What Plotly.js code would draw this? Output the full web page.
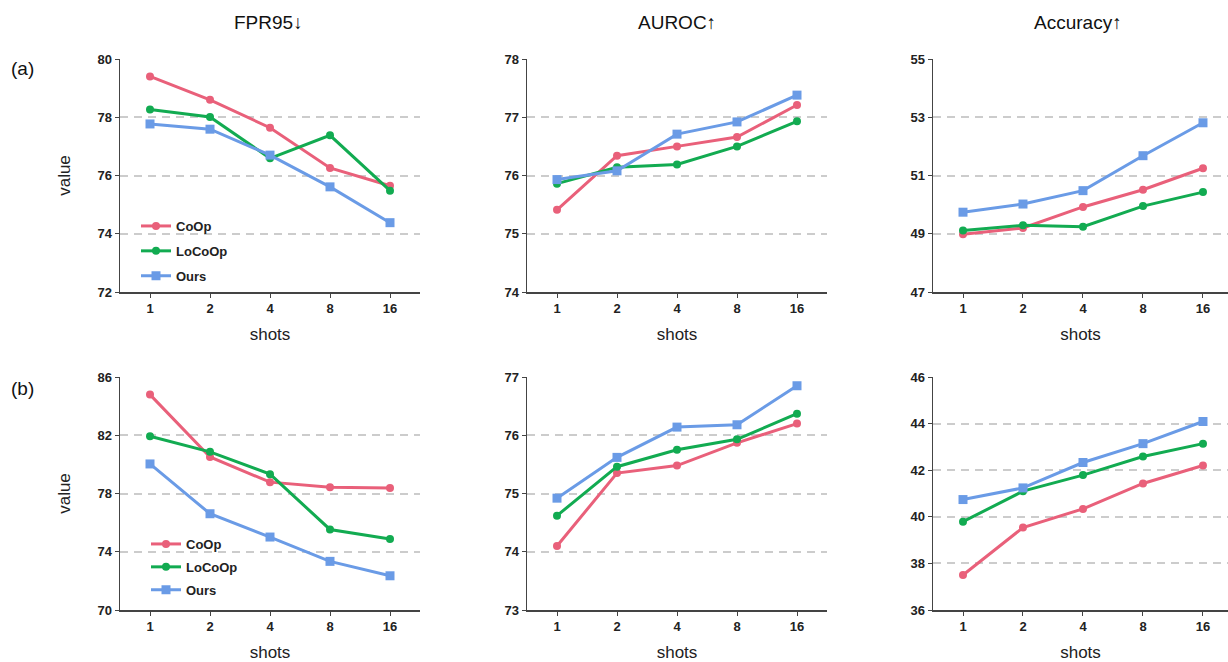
<!DOCTYPE html>
<html>
<head>
<meta charset="utf-8">
<script src="https://cdn.plot.ly/plotly-3.0.1.min.js"></script>
<style>
  html, body { margin: 0; padding: 0; background: #fff; }
  #chart { width: 1228px; height: 662px; }
</style>
</head>
<body>
<div id="chart"></div>
<script>
// ---------- data ----------
const shots = ['1', '2', '4', '8', '16'];
const methods = ['CoOp', 'LoCoOp', 'Ours'];
const columnTitles = ['FPR95\u2193', 'AUROC\u2191', 'Accuracy\u2191'];
const rowLabels = ['(a)', '(b)'];

// row (a)
const fprA_coop   = [79.40, 78.60, 77.64, 76.26, 75.65];
const fprA_locoop = [78.27, 78.01, 76.59, 77.38, 75.48];
const fprA_ours   = [77.77, 77.59, 76.70, 75.61, 74.38];
const aurocA_coop   = [75.41, 76.34, 76.50, 76.66, 77.21];
const aurocA_locoop = [75.86, 76.14, 76.19, 76.50, 76.93];
const aurocA_ours   = [75.93, 76.08, 76.71, 76.92, 77.38];
const accA_coop   = [48.98, 49.20, 49.92, 50.51, 51.25];
const accA_locoop = [49.11, 49.29, 49.24, 49.95, 50.43];
const accA_ours   = [49.74, 50.02, 50.48, 51.68, 52.81];

// row (b)
const fprB_coop   = [84.79, 80.51, 78.78, 78.43, 78.37];
const fprB_locoop = [81.93, 80.86, 79.33, 75.53, 74.87];
const fprB_ours   = [80.03, 76.61, 75.01, 73.34, 72.35];
const aurocB_coop   = [74.10, 75.35, 75.48, 75.87, 76.20];
const aurocB_locoop = [74.62, 75.46, 75.75, 75.93, 76.37];
const aurocB_ours   = [74.92, 75.62, 76.14, 76.18, 76.85];
const accB_coop   = [37.50, 39.54, 40.34, 41.43, 42.20];
const accB_locoop = [39.79, 41.10, 41.79, 42.59, 43.14];
const accB_ours   = [40.74, 41.24, 42.33, 43.14, 44.09];

// y-axis ranges / tick steps per panel
const yRanges = [[72, 80], [74, 78], [47, 55], [70, 86], [73, 77], [36, 46]];
const yDticks = [2, 1, 2, 4, 1, 2];

// ---------- styling ----------
const colors = ['#E9607A', '#12AB51', '#6A9BE6'];
const symbols = ['circle', 'circle', 'square'];
const msizes = [8, 8, 9];
const FONT = 'Liberation Sans, Arial, Helvetica, sans-serif';

const panels = [
  [fprA_coop, fprA_locoop, fprA_ours],
  [aurocA_coop, aurocA_locoop, aurocA_ours],
  [accA_coop, accA_locoop, accA_ours],
  [fprB_coop, fprB_locoop, fprB_ours],
  [aurocB_coop, aurocB_locoop, aurocB_ours],
  [accB_coop, accB_locoop, accB_ours]
];

const W = 1228, H = 662;
const colPx = [[120, 420], [527, 827], [933, 1228]];
const colXRange = [[-0.5, 4.5], [-0.5, 4.5], [-0.5, 4.417]];
const rowPx = [[59, 292], [377, 610]];

const traces = [];
const layout = {
  width: W, height: H,
  margin: {l: 0, r: 0, t: 0, b: 0},
  paper_bgcolor: '#fff', plot_bgcolor: '#fff',
  font: {family: FONT, color: '#222'},
  hovermode: false,
  annotations: [],
  legend: {
    x: 136 / W, y: 1 - 211 / H, xanchor: 'left', yanchor: 'top',
    bgcolor: 'rgba(0,0,0,0)', font: {family: FONT, size: 13, weight: 700, color: '#222'},
    tracegroupgap: 5, itemwidth: 30
  },
  legend2: {
    x: 146 / W, y: 1 - 529 / H, xanchor: 'left', yanchor: 'top',
    bgcolor: 'rgba(0,0,0,0)', font: {family: FONT, size: 13, weight: 700, color: '#222'},
    tracegroupgap: 3, itemwidth: 30
  }
};

panels.forEach((series, p) => {
  const row = Math.floor(p / 3), col = p % 3;
  const idx = p === 0 ? '' : String(p + 1);
  const xa = 'x' + idx, ya = 'y' + idx;
  series.forEach((vals, m) => {
    const t = {
      type: 'scatter', mode: 'lines+markers',
      x: shots, y: vals, xaxis: xa, yaxis: ya,
      name: methods[m],
      line: {color: colors[m], width: 3},
      marker: {color: colors[m], symbol: symbols[m], size: msizes[m]},
      showlegend: false, cliponaxis: false
    };
    if (p === 0) { t.showlegend = true; t.legend = 'legend'; t.legendgroup = 'a' + m; }
    if (p === 3) { t.showlegend = true; t.legend = 'legend2'; t.legendgroup = 'b' + m; }
    traces.push(t);
  });

  const xKey = 'xaxis' + idx, yKey = 'yaxis' + idx;
  layout[xKey] = {
    domain: [colPx[col][0] / W, colPx[col][1] / W],
    anchor: ya, type: 'category', range: colXRange[col],
    showline: true, linecolor: '#444', linewidth: 1.5,
    ticks: 'outside', ticklen: 4, tickcolor: '#444', tickwidth: 1,
    showgrid: false, zeroline: false,
    tickfont: {family: FONT, size: 13, weight: 700, color: '#222'},
    title: {text: 'shots', font: {family: FONT, size: 17, color: '#222'}, standoff: 13},
    fixedrange: true
  };
  layout[yKey] = {
    domain: [1 - rowPx[row][1] / H, 1 - rowPx[row][0] / H],
    anchor: xa, range: yRanges[p], dtick: yDticks[p], tick0: yRanges[p][0],
    showline: true, linecolor: '#444', linewidth: 1.5,
    ticks: 'outside', ticklen: 4, tickcolor: '#444', tickwidth: 1,
    showgrid: true, gridcolor: '#cccccc', gridwidth: 2, griddash: '8px,6px',
    zeroline: false,
    tickfont: {family: FONT, size: 13, weight: 700, color: '#222'},
    fixedrange: true
  };
  if (col === 0) {
    layout[yKey].title = {text: 'value', font: {family: FONT, size: 17, color: '#222'}, standoff: 22};
  }
});

// column titles
columnTitles.forEach((txt, c) => {
  layout.annotations.push({
    text: txt, xref: 'paper', yref: 'paper',
    x: [268, 677, 1078][c] / W, y: 1 - 23 / H,
    xanchor: 'center', yanchor: 'middle', showarrow: false,
    font: {family: FONT, size: 19, color: '#111'}
  });
});
// row labels
rowLabels.forEach((txt, r) => {
  layout.annotations.push({
    text: txt, xref: 'paper', yref: 'paper',
    x: 22 / W, y: 1 - [68, 388][r] / H,
    xanchor: 'center', yanchor: 'middle', showarrow: false,
    font: {family: FONT, size: 19, color: '#111'}
  });
});

Plotly.newPlot('chart', traces, layout, {displayModeBar: false, staticPlot: true});
</script>
</body>
</html>
